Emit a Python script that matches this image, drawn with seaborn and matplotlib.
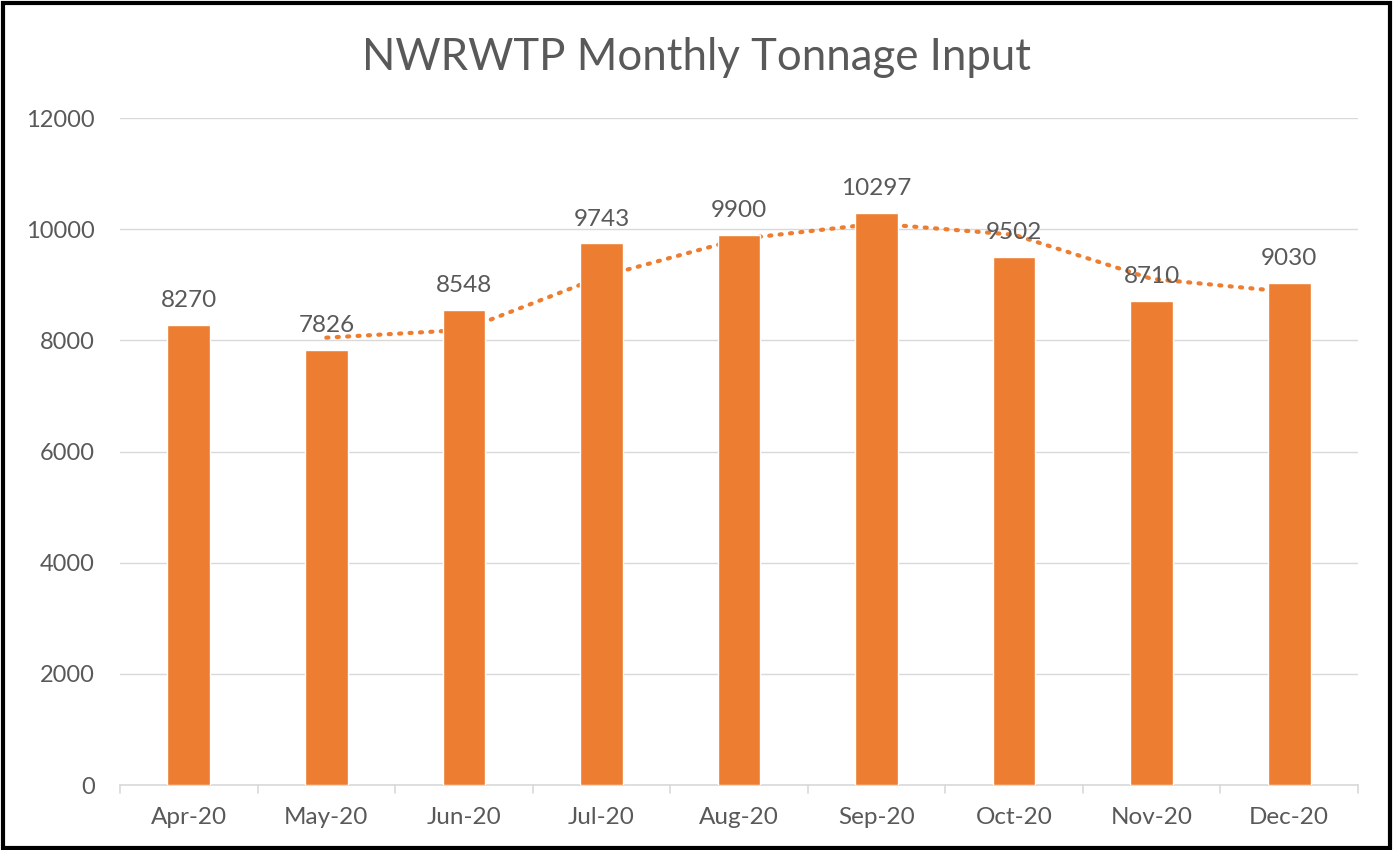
import matplotlib
matplotlib.use("Agg")
import matplotlib.pyplot as plt
import seaborn as sns
import pandas as pd
from matplotlib.patches import Rectangle

months = ["Apr-20", "May-20", "Jun-20", "Jul-20", "Aug-20", "Sep-20", "Oct-20", "Nov-20", "Dec-20"]
tonnage = [8270, 7826, 8548, 9743, 9900, 10297, 9502, 8710, 9030]
# 2-period moving average trendline, starting at May-20
trend_months = ["May-20", "Jun-20", "Jul-20", "Aug-20", "Sep-20", "Oct-20", "Nov-20", "Dec-20"]
trend = [8048, 8187, 9146, 9822, 10099, 9900, 9106, 8870]
yticks = [0, 2000, 4000, 6000, 8000, 10000, 12000]

sns.set_theme(style="white")
plt.rcParams['font.family'] = ['Lato', 'DejaVu Sans']

BAR = "#ED7D31"
TXT = "#595959"
GRID = "#D9D9D9"

fig = plt.figure(figsize=(13.93, 8.5), dpi=100)
ax = fig.add_axes([120/1393, 1-785/850, (1358-120)/1393, (785-118)/850])

df = pd.DataFrame({"Month": months, "Tonnage": tonnage})
sns.barplot(data=df, x="Month", y="Tonnage", color=BAR, width=0.31,
            saturation=1, ax=ax, zorder=3)

pos = {m: i for i, m in enumerate(months)}
ax.plot([pos[m] for m in trend_months], trend, linestyle=(0, (0.5, 2.0)),
        dash_capstyle="round", color=BAR, linewidth=3, zorder=2)

for i, v in enumerate(tonnage):
    ax.annotate(str(v), (i, v), xytext=(0, 10), textcoords="offset points",
                ha="center", va="bottom", fontsize=17.5, color=TXT, zorder=5)

ax.set_ylim(0, 12000)
ax.set_xlim(-0.5, len(months) - 0.5)
ax.set_yticks(yticks)
ax.set_yticklabels([str(t) for t in yticks])
ax.grid(axis="y", color=GRID, linewidth=1, zorder=0)
ax.set_axisbelow(True)
for s in ["top", "right", "left"]:
    ax.spines[s].set_visible(False)
ax.spines["bottom"].set_color(GRID)
ax.spines["bottom"].set_linewidth(1.2)
ax.set_xlabel("")
ax.set_ylabel("")
ax.tick_params(axis="y", length=0, labelsize=17, labelcolor=TXT, pad=18)
ax.tick_params(axis="x", length=0, labelsize=17.5, labelcolor=TXT, pad=16)
# tick marks between categories
for b in [i - 0.5 for i in range(len(months) + 1)]:
    ax.plot([b, b], [0, -0.012], transform=ax.get_xaxis_transform(), color=GRID,
            linewidth=1.2, clip_on=False)

fig.text(0.5, 1 - 57/850, "NWRWTP Monthly Tonnage Input", ha="center", va="center",
         fontsize=31.5, color=TXT)

fig.patches.append(Rectangle((0.002, 0.002), 0.996, 0.995, transform=fig.transFigure,
                             fill=False, edgecolor="black", linewidth=3))

fig.savefig("out.png", dpi=100)
